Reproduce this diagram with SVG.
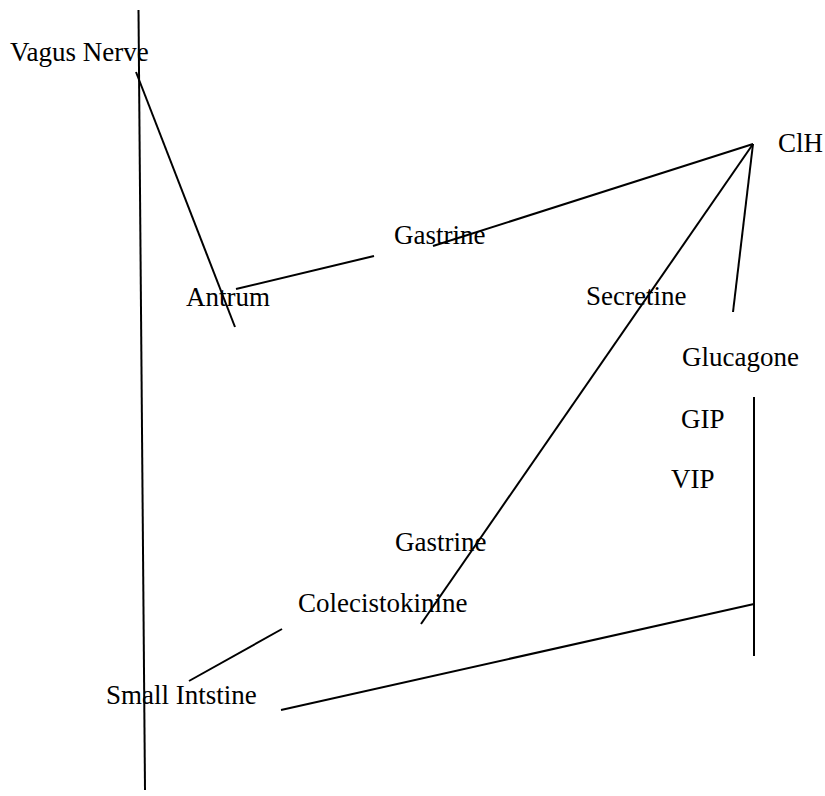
<svg xmlns="http://www.w3.org/2000/svg" width="825" height="796" viewBox="0 0 825 796">
<style>
text{font-family:"Liberation Serif","Times New Roman",serif;font-size:27px;fill:#000}
line{stroke:#000;stroke-width:2;stroke-linecap:butt}
</style>
<rect width="825" height="796" fill="#fff"/>
<g id="connectors">
<line x1="138.5" y1="10" x2="145" y2="790"/>
<line x1="136" y1="72" x2="235" y2="327"/>
<line x1="236" y1="289" x2="374" y2="256"/>
<line x1="433" y1="246" x2="753" y2="144"/>
<line x1="753" y1="144" x2="733" y2="312"/>
<line x1="753" y1="144" x2="421" y2="624"/>
<line x1="754" y1="397" x2="754" y2="656"/>
<line x1="281" y1="710" x2="754" y2="604"/>
<line x1="189" y1="681" x2="282" y2="629"/>
</g>
<g id="vagus"><text x="10" y="61">Vagus Nerve</text></g>
<g id="antrum"><text x="186" y="306">Antrum</text></g>
<g id="gastrine1"><text x="394" y="244">Gastrine</text></g>
<g id="clh"><text x="778" y="152">ClH</text></g>
<g id="secretine"><text x="586" y="305">Secretine</text></g>
<g id="glucagone"><text x="682" y="366">Glucagone</text></g>
<g id="gip"><text x="681" y="428">GIP</text></g>
<g id="vip"><text x="671" y="488">VIP</text></g>
<g id="gastrine2"><text x="395" y="551">Gastrine</text></g>
<g id="colecistokinine"><text x="298" y="612">Colecistokinine</text></g>
<g id="smallintestine"><text x="106" y="704">Small Intstine</text></g>
</svg>
